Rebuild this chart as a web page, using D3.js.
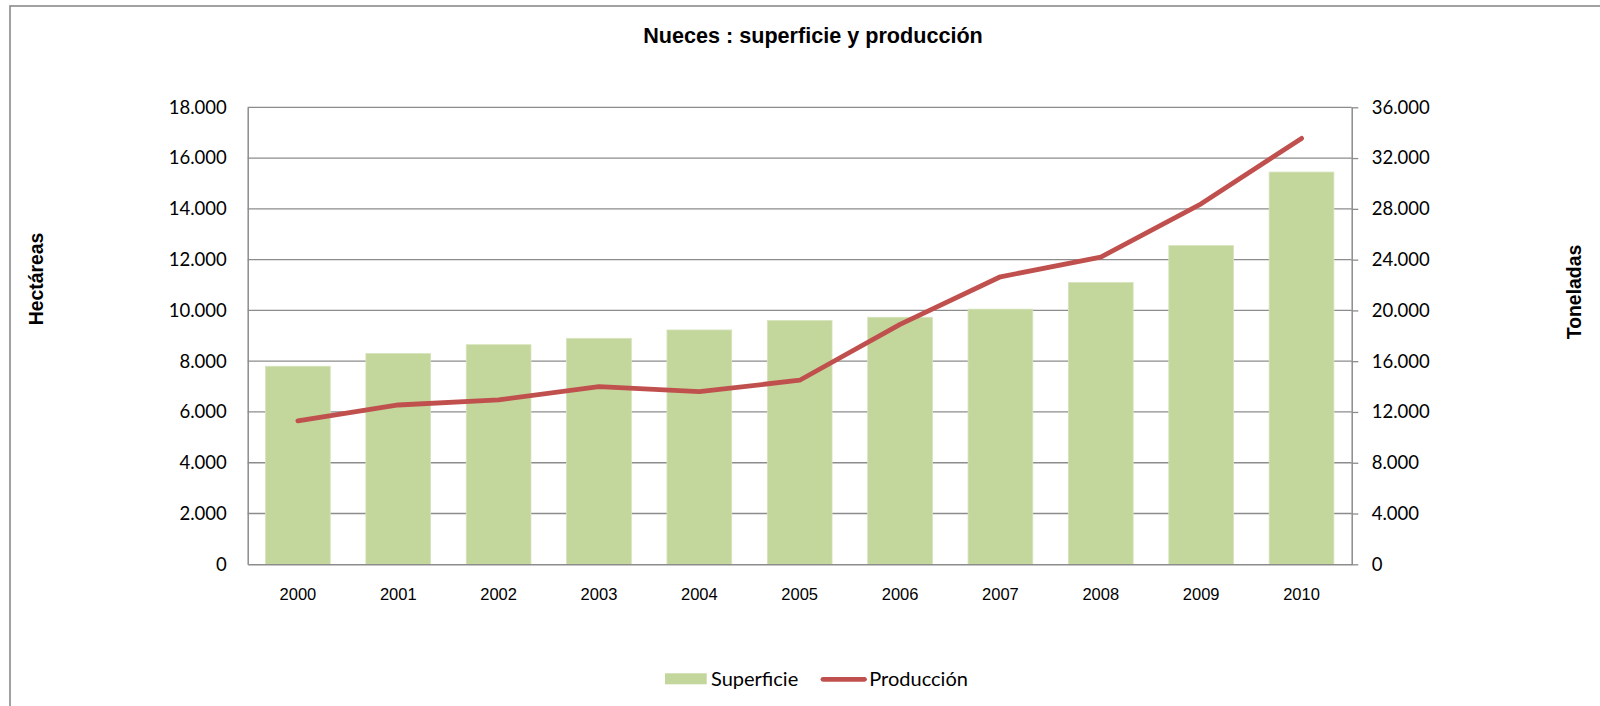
<!DOCTYPE html>
<html>
<head>
<meta charset="utf-8">
<script src="https://cdn.jsdelivr.net/npm/d3@7"></script>
<style>
  html, body { margin: 0; padding: 0; background: #fff; }
  svg { display: block; }
</style>
</head>
<body>
<svg id="chart" width="1600" height="706"></svg>
<script>
// ---- Data ----
const years = ["2000","2001","2002","2003","2004","2005","2006","2007","2008","2009","2010"];
const superficie = [7800, 8300, 8650, 8900, 9230, 9600, 9730, 10050, 11100, 12550, 15450];
const produccion = [11300, 12550, 12950, 14000, 13600, 14500, 18900, 22650, 24200, 28400, 33550];
const leftTicks = [0, 2000, 4000, 6000, 8000, 10000, 12000, 14000, 16000, 18000];
const rightTicks = [0, 4000, 8000, 12000, 16000, 20000, 24000, 28000, 32000, 36000];
const titleText = "Nueces : superficie y producción";
const leftTitle = "Hectáreas";
const rightTitle = "Toneladas";
const seriesNames = ["Superficie", "Producción"];

// ---- Layout ----
const W = 1600, H = 706;
const plot = { left: 247.7, right: 1351.7, top: 107.3, bottom: 564.3 };
const gridColor = "#8c8c8c";
const barColor = "#c3d69b";
const lineColor = "#c0504d";
const numFont = "Lato, 'Open Sans', sans-serif";
const arial = "'Liberation Sans', Arial, sans-serif";

const svg = d3.select("#chart");

// Outer frame
svg.append("rect")
  .attr("x", 10).attr("y", 6)
  .attr("width", W + 20).attr("height", H + 20)
  .attr("fill", "#fff")
  .attr("stroke", "#8a8a8a").attr("stroke-width", 1.6);

const loc = d3.formatLocale({ decimal: ",", thousands: ".", grouping: [3], currency: ["", ""] });
const fmt = loc.format(",d");

const x = d3.scaleBand()
  .domain(years)
  .range([plot.left, plot.right])
  .paddingInner(0.355)
  .paddingOuter(0.1775);

const yL = d3.scaleLinear().domain([0, 18000]).range([plot.bottom, plot.top]);
const yR = d3.scaleLinear().domain([0, 36000]).range([plot.bottom, plot.top]);

// Gridlines
svg.append("g").selectAll("line")
  .data(leftTicks.filter(d => d > 0))
  .join("line")
  .attr("x1", plot.left).attr("x2", plot.right)
  .attr("y1", d => yL(d)).attr("y2", d => yL(d))
  .attr("stroke", gridColor).attr("stroke-width", 1.3);

// Bars
svg.append("g").selectAll("rect")
  .data(years.map((y, i) => ({ y, v: superficie[i] })))
  .join("rect")
  .attr("x", d => x(d.y))
  .attr("width", x.bandwidth())
  .attr("y", d => yL(d.v))
  .attr("height", d => yL(0) - yL(d.v))
  .attr("fill", barColor)
  .attr("stroke", "#d6e3bc").attr("stroke-width", 0.8);

// Left axis
const gL = svg.append("g")
  .attr("transform", `translate(${plot.left},0)`)
  .call(d3.axisLeft(yL).tickValues(leftTicks).tickFormat(fmt).tickSize(0).tickPadding(21));
gL.select(".domain").attr("stroke", gridColor).attr("stroke-width", 1.5);
gL.selectAll("text").attr("font-family", numFont).attr("font-size", 18.5).attr("fill", "#000");

// Right axis
const gR = svg.append("g")
  .attr("transform", `translate(${plot.right},0)`)
  .call(d3.axisRight(yR).tickValues(rightTicks).tickFormat(fmt).tickSizeInner(6.6).tickSizeOuter(0).tickPadding(13.4));
gR.select(".domain").attr("stroke", gridColor).attr("stroke-width", 1.5);
gR.selectAll(".tick line").attr("stroke", gridColor).attr("stroke-width", 1.3);
gR.selectAll("text").attr("font-family", numFont).attr("font-size", 18.5).attr("fill", "#000");

// Bottom axis
const gB = svg.append("g")
  .attr("transform", `translate(0,${plot.bottom})`)
  .call(d3.axisBottom(x).tickSize(0).tickPadding(24));
gB.select(".domain").attr("stroke", gridColor).attr("stroke-width", 1.5);
gB.selectAll("text").attr("font-family", arial).attr("font-size", 16.5).attr("fill", "#000");

// Line
const line = d3.line()
  .x((d, i) => x(years[i]) + x.bandwidth() / 2)
  .y(d => yR(d));
svg.append("path")
  .datum(produccion)
  .attr("d", line)
  .attr("fill", "none")
  .attr("stroke", lineColor)
  .attr("stroke-width", 4.8)
  .attr("stroke-linejoin", "round")
  .attr("stroke-linecap", "round");

// Title
svg.append("text")
  .attr("x", 813).attr("y", 43)
  .attr("text-anchor", "middle")
  .attr("font-family", arial).attr("font-weight", "bold").attr("font-size", 21.6)
  .attr("fill", "#000")
  .text(titleText);

// Axis titles
svg.append("text")
  .attr("transform", "translate(43,279) rotate(-90)")
  .attr("text-anchor", "middle")
  .attr("font-family", arial).attr("font-weight", "bold").attr("font-size", 19.4)
  .attr("fill", "#000")
  .text(leftTitle);
svg.append("text")
  .attr("transform", "translate(1580.5,292) rotate(-90)")
  .attr("text-anchor", "middle")
  .attr("font-family", arial).attr("font-weight", "bold").attr("font-size", 19.4)
  .attr("fill", "#000")
  .text(rightTitle);

// Legend
const lg = svg.append("g");
lg.append("rect")
  .attr("x", 665).attr("y", 673.3).attr("width", 41.7).attr("height", 11)
  .attr("fill", barColor);
lg.append("text")
  .attr("x", 711).attr("y", 685.7)
  .attr("font-family", numFont).attr("font-size", 20).attr("fill", "#000")
  .text(seriesNames[0]);
lg.append("line")
  .attr("x1", 823).attr("x2", 864.5).attr("y1", 679.3).attr("y2", 679.3)
  .attr("stroke", lineColor).attr("stroke-width", 4.8).attr("stroke-linecap", "round");
lg.append("text")
  .attr("x", 869.3).attr("y", 685.7)
  .attr("font-family", numFont).attr("font-size", 20).attr("fill", "#000")
  .text(seriesNames[1]);
</script>
</body>
</html>
